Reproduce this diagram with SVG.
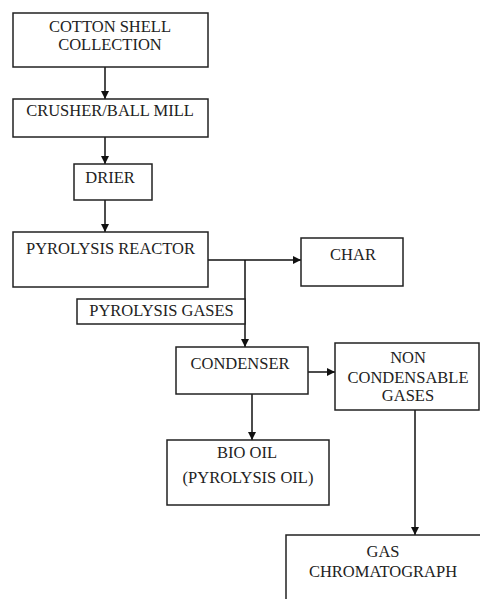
<svg xmlns="http://www.w3.org/2000/svg" width="480" height="599" viewBox="0 0 480 599">
<style>
.box{fill:#fff;stroke:#222;stroke-width:1.5}
.t{font-family:"Liberation Serif","Times New Roman","DejaVu Serif",serif;font-size:16.5px;fill:#222;text-anchor:middle}
.c{fill:none;stroke:#111;stroke-width:1.5}
</style>
<defs>
<marker id="ah" viewBox="0 0 10 10" refX="10" refY="5" markerWidth="8" markerHeight="8" markerUnits="userSpaceOnUse" orient="auto">
<path d="M0,0 L10,5 L0,10 z" fill="#111"/>
</marker>
</defs>
<rect width="480" height="599" fill="#fff"/>
<g id="connectors">
<line class="c" x1="105" y1="67" x2="105" y2="99" marker-end="url(#ah)"/>
<line class="c" x1="105" y1="137" x2="105" y2="164" marker-end="url(#ah)"/>
<line class="c" x1="105" y1="200" x2="105" y2="232" marker-end="url(#ah)"/>
<line class="c" x1="208" y1="260" x2="301" y2="260" marker-end="url(#ah)"/>
<line class="c" x1="245" y1="260" x2="245" y2="347" marker-end="url(#ah)"/>
<line class="c" x1="308" y1="372" x2="335" y2="372" marker-end="url(#ah)"/>
<line class="c" x1="252" y1="394" x2="252" y2="440" marker-end="url(#ah)"/>
<line class="c" x1="415" y1="410" x2="415" y2="535" marker-end="url(#ah)"/>
</g>
<g id="cotton">
<rect class="box" x="13" y="13" width="195" height="54"/>
<text class="t" x="110" y="31.5">COTTON SHELL</text>
<text class="t" x="110" y="50">COLLECTION</text>
</g>
<g id="crusher">
<rect class="box" x="13" y="99" width="195" height="38"/>
<text class="t" x="110" y="116">CRUSHER/BALL MILL</text>
</g>
<g id="drier">
<rect class="box" x="74" y="164" width="78" height="36"/>
<text class="t" x="110" y="183">DRIER</text>
</g>
<g id="reactor">
<rect class="box" x="13" y="232" width="195" height="55"/>
<text class="t" x="110.5" y="254">PYROLYSIS REACTOR</text>
</g>
<g id="char">
<rect class="box" x="301" y="238" width="102" height="48"/>
<text class="t" x="353" y="260">CHAR</text>
</g>
<g id="gases">
<rect class="box" x="77" y="299" width="168" height="25"/>
<text class="t" x="161.5" y="316">PYROLYSIS GASES</text>
</g>
<g id="condenser">
<rect class="box" x="176" y="347" width="132" height="47"/>
<text class="t" x="240" y="369">CONDENSER</text>
</g>
<g id="noncondensable">
<rect class="box" x="335" y="343" width="144" height="67"/>
<text class="t" x="408" y="363">NON</text>
<text class="t" x="408" y="383">CONDENSABLE</text>
<text class="t" x="408" y="401">GASES</text>
</g>
<g id="biooil">
<rect class="box" x="167" y="440" width="162" height="65"/>
<text class="t" x="247" y="458">BIO OIL</text>
<text class="t" x="248" y="483">(PYROLYSIS OIL)</text>
</g>
<g id="gc">
<rect class="box" x="286" y="535" width="210" height="80"/>
<text class="t" x="383" y="557">GAS</text>
<text class="t" x="383" y="577">CHROMATOGRAPH</text>
</g>
</svg>
